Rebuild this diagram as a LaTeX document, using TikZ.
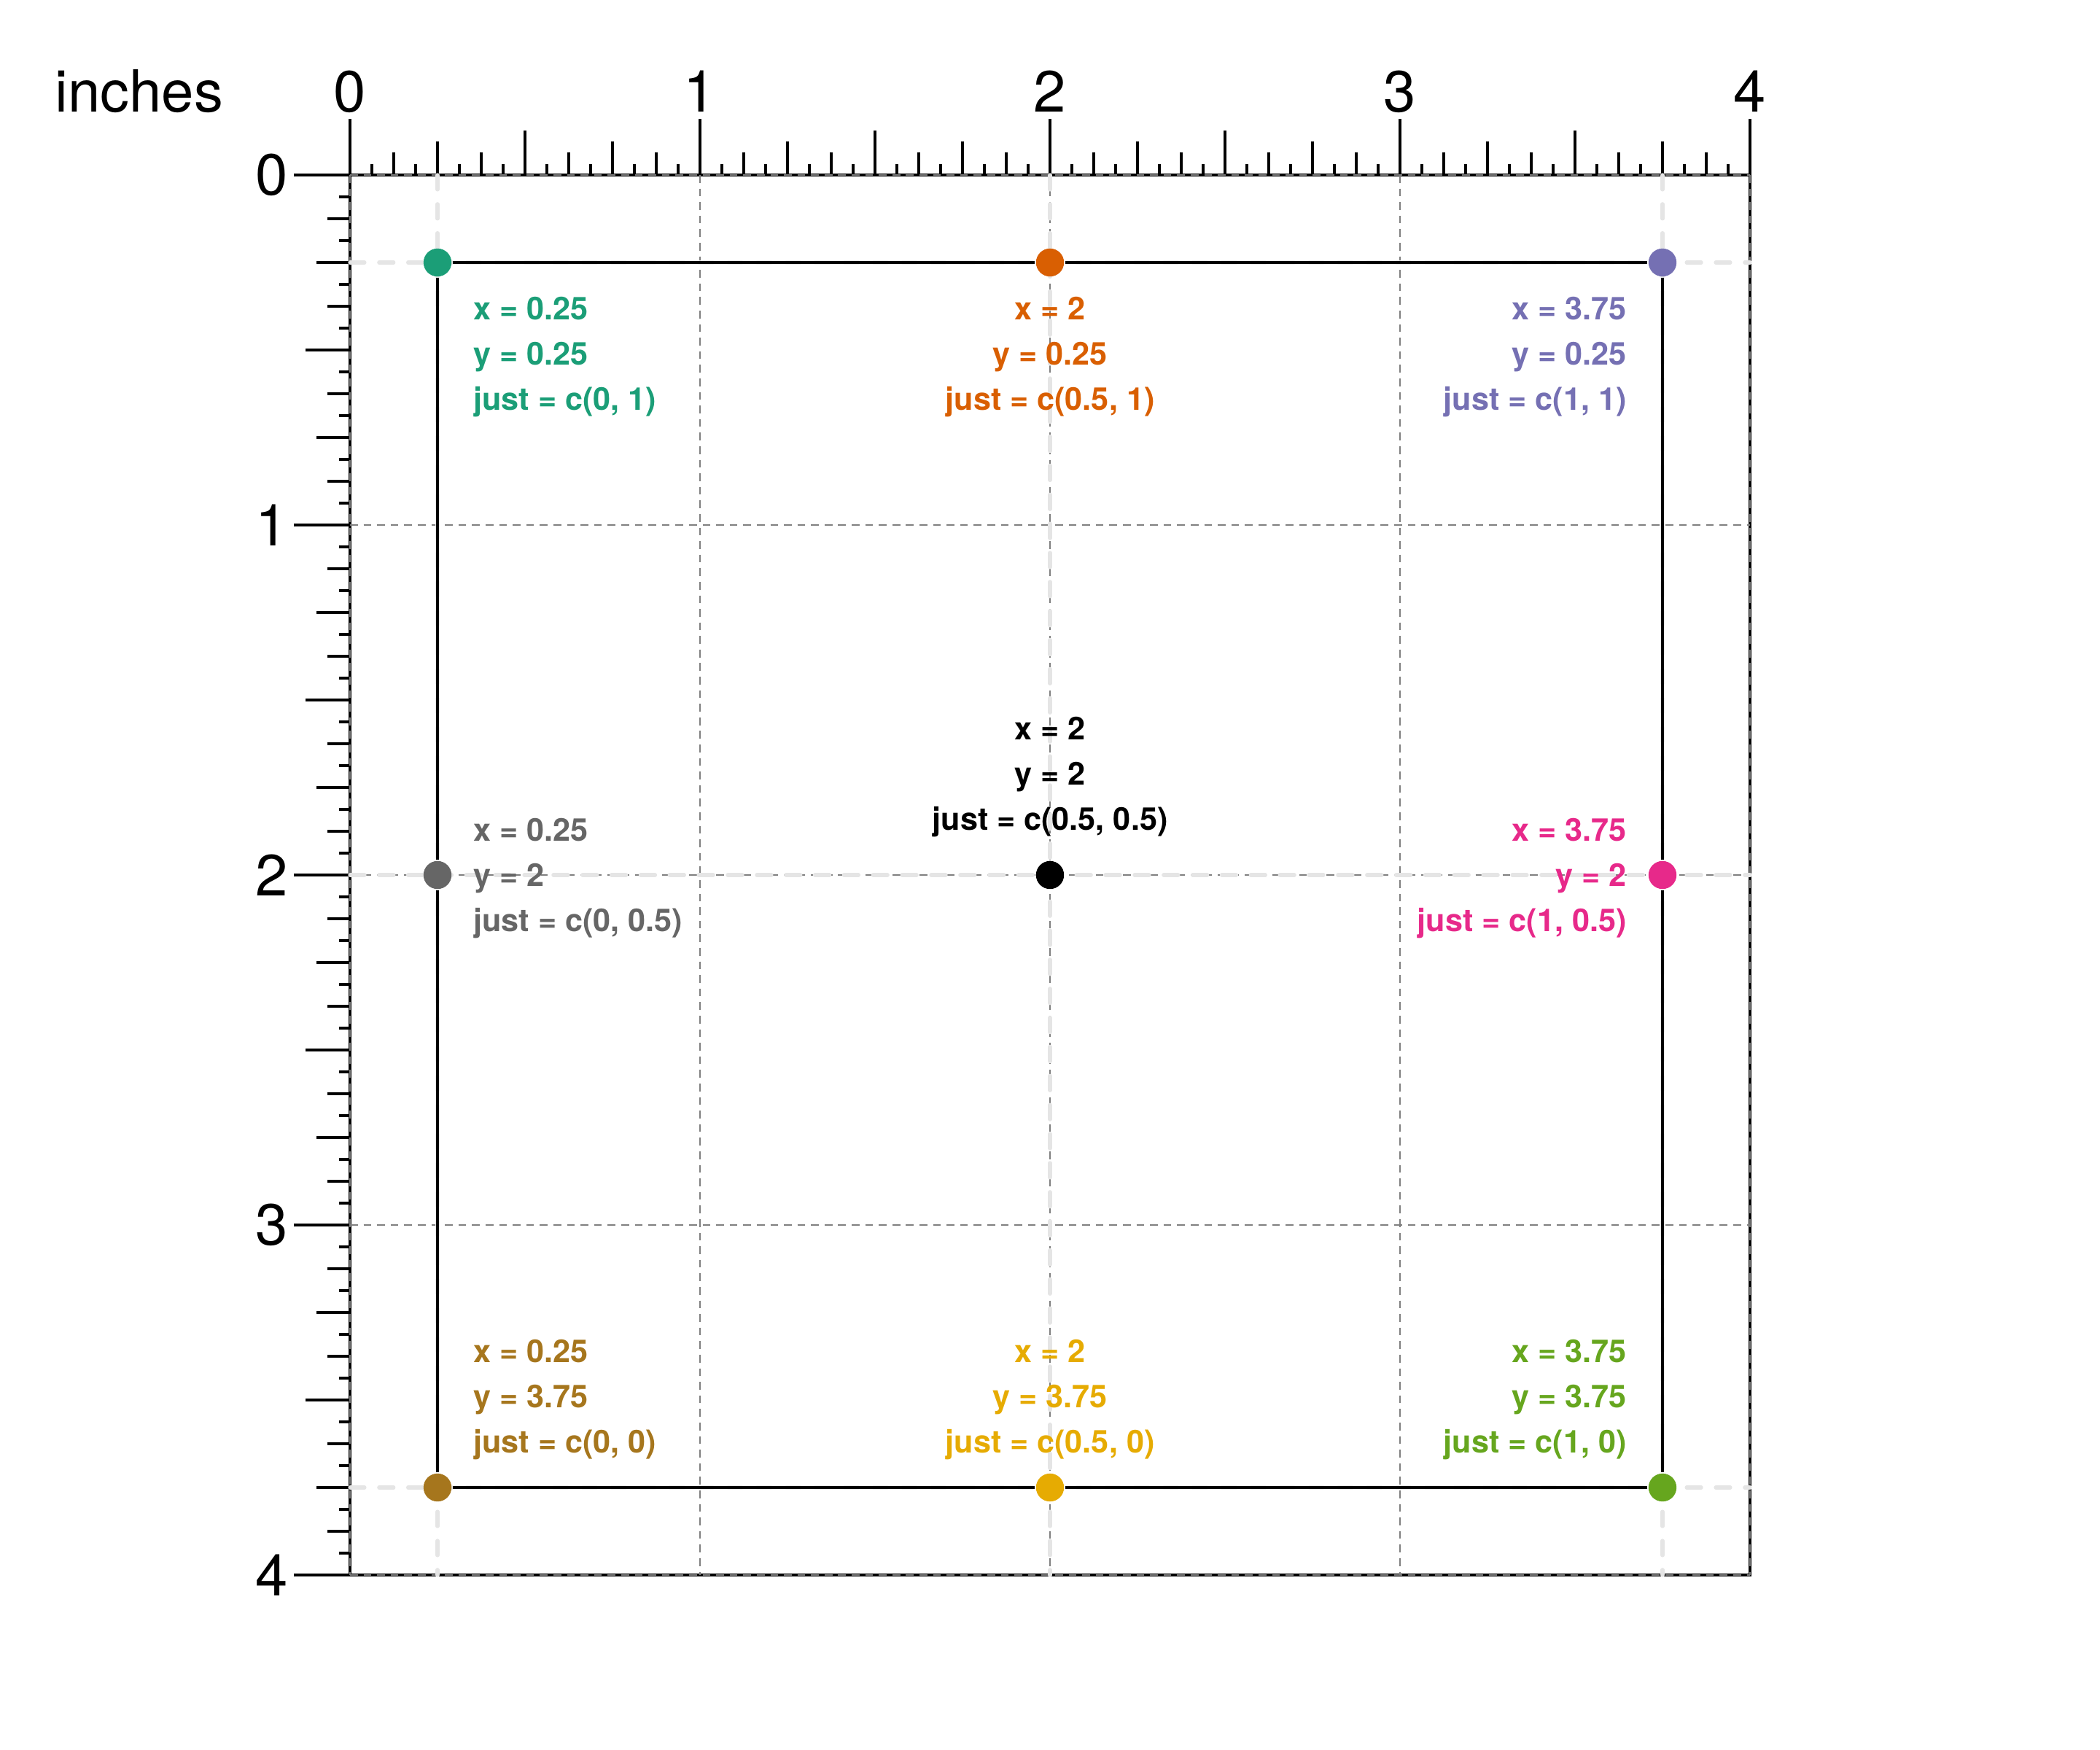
\documentclass[tikz,border=0pt]{standalone}
\usepackage{fontspec}
\setmainfont{TeX Gyre Heros}
\definecolor{dteal}{HTML}{1B9E77}
\definecolor{dorange}{HTML}{D95F02}
\definecolor{dpurple}{HTML}{7570B3}
\definecolor{dpink}{HTML}{E7298A}
\definecolor{dgreen}{HTML}{66A61E}
\definecolor{dyellow}{HTML}{E6AB02}
\definecolor{dbrown}{HTML}{A6761D}
\definecolor{dgrey}{HTML}{666666}
\definecolor{gridgrey}{HTML}{7F7F7F}
\definecolor{guidegrey}{HTML}{E5E5E5}
\begin{document}
\begin{tikzpicture}[x=1in, y=-1in,
    axisline/.style={line width=0.7pt},
    tickline/.style={line width=0.6pt},
    gridline/.style={gridgrey, line width=0.4pt, dash pattern=on 1.6pt off 1.2pt},
    guide/.style={guidegrey, line width=0.8pt, dash pattern=on 3pt off 3pt, line cap=round},
    spot/.style={circle, fill=#1, inner sep=0pt, minimum size=0.08in},
    lbl/.style={text=#1, inner sep=0pt, font=\fontsize{6.5}{9.3}\selectfont\bfseries},
    rulernum/.style={inner sep=0pt, font=\fontsize{12}{14}\selectfont}]
    \useasboundingbox (-1, -0.5) rectangle (5, 4.5);

    % ruler frame and ticks (1/16 inch)
    \draw[axisline] (0, 0) rectangle (4, 4);
    \foreach \i in {0,...,64} {
        \pgfmathsetmacro\len{0.032*(1+(mod(\i,2)==0)+(mod(\i,4)==0)+(mod(\i,8)==0)+(mod(\i,16)==0))}
        \draw[tickline] (\i/16, 0) -- ++(0, -\len);
        \draw[tickline] (0, \i/16) -- ++(-\len, 0);
    }
    \foreach \i in {0,...,4} {
        \node[rulernum, anchor=base] (top\i) at (\i, -0.18) {\i};
        \node[rulernum, anchor=east] (left\i) at (-0.175, \i) {\i};
    }
    \node[rulernum, anchor=base east] (unit) at (-0.36, -0.18) {inches};

    % inch grid
    \foreach \i in {0,...,4} {
        \draw[gridline] (\i, 0) -- (\i, 4);
        \draw[gridline] (0, \i) -- (4, \i);
    }

    % guides through the points
    \foreach \p in {0.25, 2, 3.75} {
        \draw[guide] (\p, 0) -- (\p, 4);
        \draw[guide] (0, \p) -- (4, \p);
    }

    % points
    \node[spot=dteal] (tl) at (0.25, 0.25) {};
    \node[spot=dorange] (tm) at (2, 0.25) {};
    \node[spot=dpurple] (tr) at (3.75, 0.25) {};
    \node[spot=dgrey] (ml) at (0.25, 2) {};
    \node[spot=black] (mm) at (2, 2) {};
    \node[spot=dpink] (mr) at (3.75, 2) {};
    \node[spot=dbrown] (bl) at (0.25, 3.75) {};
    \node[spot=dyellow] (bm) at (2, 3.75) {};
    \node[spot=dgreen] (br) at (3.75, 3.75) {};

    % box through the outer points
    \draw[axisline] (tl) -- (tm) -- (tr) -- (mr) -- (br) -- (bm) -- (bl) -- (ml) -- (tl);

    % justification labels (anchored at the last baseline)
    \node[lbl=dteal, align=left, anchor=base west] (tltext) at (0.35, 0.671)
        {x = 0.25\\y = 0.25\\just = c(0, 1)};
    \node[lbl=dorange, align=center, anchor=base] (tmtext) at (2, 0.671)
        {x = 2\\y = 0.25\\just = c(0.5, 1)};
    \node[lbl=dpurple, align=right, anchor=base east] (trtext) at (3.65, 0.671)
        {x = 3.75\\y = 0.25\\just = c(1, 1)};
    \node[lbl=dgrey, align=left, anchor=base west] (mltext) at (0.35, 2.161)
        {x = 0.25\\y = 2\\just = c(0, 0.5)};
    \node[lbl=black, align=center, anchor=base] (mmtext) at (2, 1.871)
        {x = 2\\y = 2\\just = c(0.5, 0.5)};
    \node[lbl=dpink, align=right, anchor=base east] (mrtext) at (3.65, 2.161)
        {x = 3.75\\y = 2\\just = c(1, 0.5)};
    \node[lbl=dbrown, align=left, anchor=base west] (bltext) at (0.35, 3.65)
        {x = 0.25\\y = 3.75\\just = c(0, 0)};
    \node[lbl=dyellow, align=center, anchor=base] (bmtext) at (2, 3.65)
        {x = 2\\y = 3.75\\just = c(0.5, 0)};
    \node[lbl=dgreen, align=right, anchor=base east] (brtext) at (3.65, 3.65)
        {x = 3.75\\y = 3.75\\just = c(1, 0)};
\end{tikzpicture}
\end{document}
